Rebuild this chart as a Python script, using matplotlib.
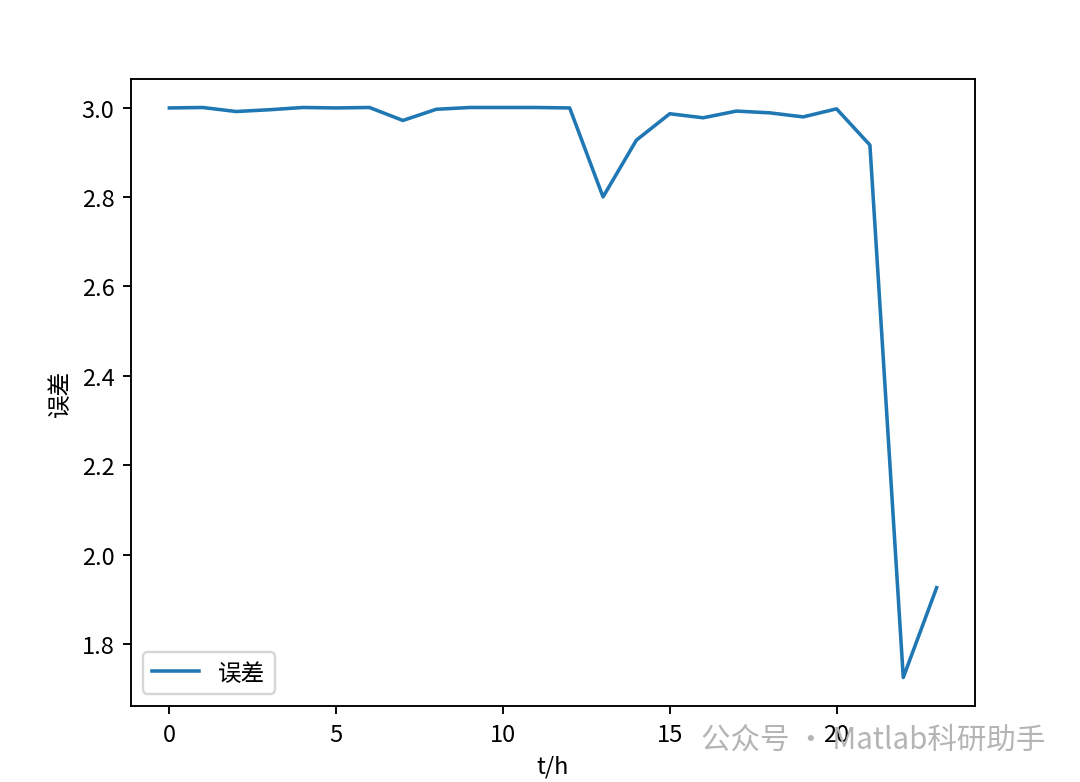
import matplotlib
matplotlib.use("Agg")
import matplotlib.pyplot as plt
import numpy as np

plt.rcParams['font.family'] = ['Noto Sans CJK SC', 'DejaVu Sans']
plt.rcParams['axes.unicode_minus'] = False

# 每小时误差
hours = list(range(24))
error = [2.999, 3.0, 2.991, 2.995, 3.0, 2.999, 3.0, 2.971,
         2.996, 3.0, 3.0, 3.0, 2.999, 2.800, 2.927, 2.986,
         2.977, 2.992, 2.988, 2.979, 2.997, 2.916, 1.725, 1.926]

dpi = 170
fig = plt.figure(figsize=(1080 / dpi, 783 / dpi), dpi=dpi)
ax = fig.add_axes([131 / 1080, 1 - 707 / 783, (975 - 131) / 1080, (707 - 80) / 783])

ax.plot(hours, error, color='#1f77b4', label='误差')
ax.set_xlabel('t/h')
ax.set_ylabel('误差')
ax.legend(loc='lower left')

# 水印
fig.text(1045 / 1080, 1 - 740 / 783, '公众号 · Matlab科研助手', ha='right', va='center',
         fontsize=12.5, color='#b4b4b4')

fig.savefig('out.png', dpi=dpi)
